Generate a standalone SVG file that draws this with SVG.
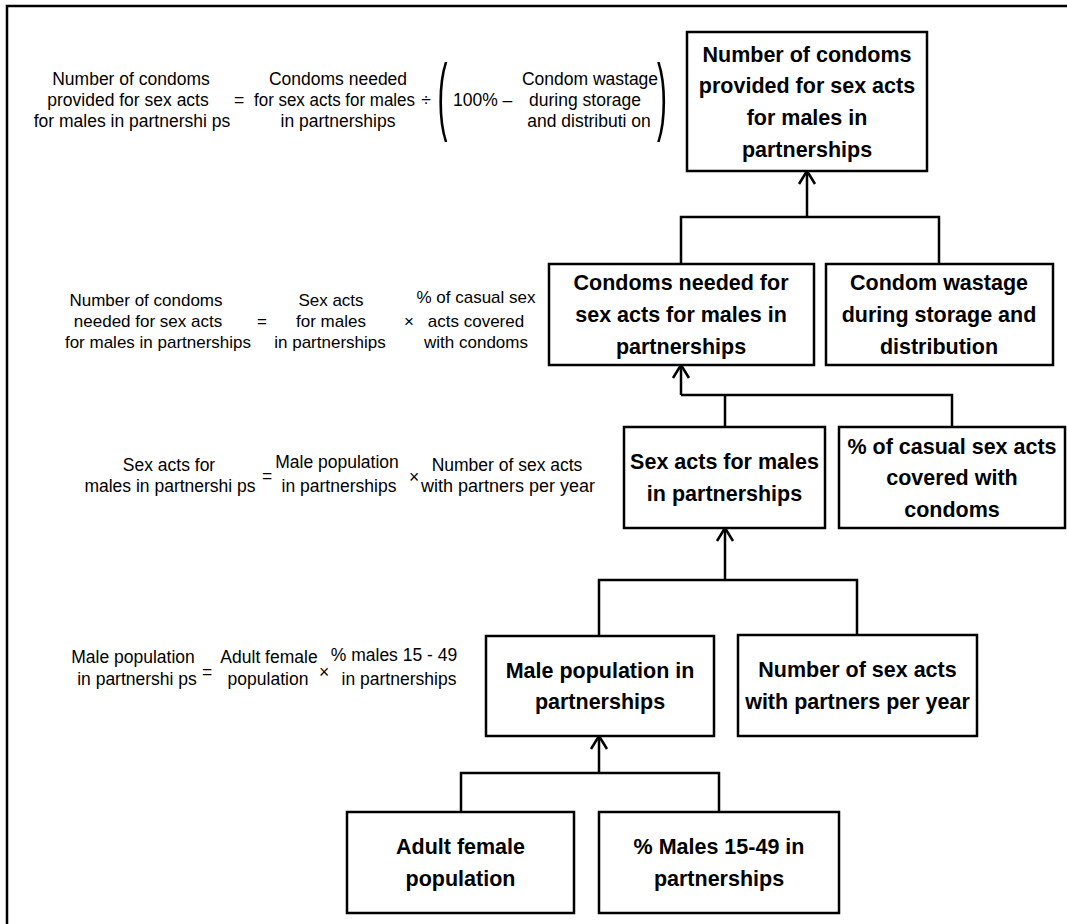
<svg xmlns="http://www.w3.org/2000/svg" width="1067" height="924" viewBox="0 0 1067 924">
<style>
.box{fill:#fff;stroke:#000;stroke-width:2.5}
.nt{font-family:"Liberation Sans",Arial,sans-serif;font-weight:bold;font-size:21.5px;text-anchor:middle;fill:#000}
.eq{font-family:"Liberation Sans",Arial,sans-serif;font-size:17.5px;fill:#000}
.eq2{font-size:17px}
.m{text-anchor:middle}
.conn{fill:none;stroke:#000;stroke-width:2.5}
.par{font-family:"Liberation Sans",Arial,sans-serif;font-size:30px;fill:#000}
</style>
<defs>
<marker id="arr" markerUnits="userSpaceOnUse" markerWidth="20" markerHeight="20" viewBox="-16 -10 20 20" refX="0" refY="0" orient="auto" overflow="visible">
<path d="M-13,-8 L0,0 L-13,8" fill="none" stroke="#000" stroke-width="2.5"/>
</marker>
</defs>
<rect x="0" y="0" width="1067" height="924" fill="#fff"/>
<rect id="frame" x="7" y="6" width="1080" height="940" fill="none" stroke="#000" stroke-width="2.5"/>

<g id="eq1" class="eq">
<text class="m" x="131" y="85">Number of condoms</text>
<text class="m" x="128" y="106">provided for sex acts</text>
<text class="m" x="132" y="127">for males in partnershi ps</text>
<text class="m" x="239" y="106">=</text>
<text class="m" x="338" y="85">Condoms needed</text>
<text class="m" x="334.5" y="106" textLength="161" lengthAdjust="spacingAndGlyphs">for sex acts for males</text>
<text class="m" x="338" y="127">in partnerships</text>
<text class="m" x="426" y="106">÷</text>
<text class="par" transform="translate(437.5,124) scale(1,2.85)">(</text>
<text x="453" y="106">100% –</text>
<text class="m" x="590" y="85">Condom wastage</text>
<text class="m" x="585" y="106">during storage</text>
<text class="m" x="589" y="127">and distributi on</text>
<text class="par" transform="translate(657,124) scale(1,2.85)">)</text>
</g>

<g id="eq2" class="eq eq2">
<text class="m" x="146" y="306">Number of condoms</text>
<text class="m" x="148" y="327">needed for sex acts</text>
<text class="m" x="158" y="348">for males in partnerships</text>
<text class="m" x="262" y="327">=</text>
<text class="m" x="331" y="306">Sex acts</text>
<text class="m" x="331" y="327">for males</text>
<text class="m" x="330" y="348">in partnerships</text>
<text class="m" x="409" y="327">×</text>
<text class="m" x="476" y="303">% of casual sex</text>
<text class="m" x="476" y="327">acts covered</text>
<text class="m" x="476" y="348">with condoms</text>
</g>

<g id="eq3" class="eq">
<text class="m" x="169" y="471">Sex acts for</text>
<text class="m" x="170" y="492">males in partnershi ps</text>
<text class="m" x="267" y="482">=</text>
<text class="m" x="337" y="468">Male population</text>
<text class="m" x="339" y="492">in partnerships</text>
<text class="m" x="414" y="483">×</text>
<text class="m" x="507" y="471">Number of sex acts</text>
<text class="m" x="508" y="492" textLength="174" lengthAdjust="spacingAndGlyphs">with partners per year</text>
</g>

<g id="eq4" class="eq">
<text class="m" x="133" y="663">Male population</text>
<text class="m" x="137" y="685">in partnershi ps</text>
<text class="m" x="207" y="678">=</text>
<text class="m" x="269" y="663">Adult female</text>
<text class="m" x="268" y="685">population</text>
<text class="m" x="324" y="678">×</text>
<text class="m" x="394" y="661">% males 15 - 49</text>
<text class="m" x="399" y="685">in partnerships</text>
</g>

<g id="connectors" class="conn">
<path d="M681,264 V217 H939 V264"/>
<path d="M807,217 V171" marker-end="url(#arr)"/>
<path d="M725,427 V395 M681,395 H952 V427"/>
<path d="M681,395 V365" marker-end="url(#arr)"/>
<path d="M599,636 V580 H857 V635"/>
<path d="M725,580 V528" marker-end="url(#arr)"/>
<path d="M461,812 V773 H719 V812"/>
<path d="M599,773 V736" marker-end="url(#arr)"/>
</g>

<g id="n1">
<rect class="box" x="687" y="32" width="240" height="139"/>
<text class="nt" x="807" y="62">Number of condoms</text>
<text class="nt" x="807" y="93">provided for sex acts</text>
<text class="nt" x="807" y="125">for males in</text>
<text class="nt" x="807" y="157">partnerships</text>
</g>
<g id="n2">
<rect class="box" x="549" y="264" width="265" height="101"/>
<text class="nt" x="681" y="290">Condoms needed for</text>
<text class="nt" x="681" y="322">sex acts for males in</text>
<text class="nt" x="681" y="354">partnerships</text>
</g>
<g id="n3">
<rect class="box" x="826" y="264" width="227" height="101"/>
<text class="nt" x="939" y="290">Condom wastage</text>
<text class="nt" x="939" y="322">during storage and</text>
<text class="nt" x="939" y="354">distribution</text>
</g>
<g id="n4">
<rect class="box" x="624" y="427" width="201" height="101"/>
<text class="nt" x="724.5" y="469">Sex acts for males</text>
<text class="nt" x="724.5" y="501">in partnerships</text>
</g>
<g id="n5">
<rect class="box" x="839" y="427" width="226" height="101"/>
<text class="nt" x="952" y="454">% of casual sex acts</text>
<text class="nt" x="952" y="485">covered with</text>
<text class="nt" x="952" y="517">condoms</text>
</g>
<g id="n6">
<rect class="box" x="486" y="636" width="228" height="100"/>
<text class="nt" x="600" y="678">Male population in</text>
<text class="nt" x="600" y="709">partnerships</text>
</g>
<g id="n7">
<rect class="box" x="738" y="635" width="239" height="101"/>
<text class="nt" x="857.5" y="677">Number of sex acts</text>
<text class="nt" x="857.5" y="709">with partners per year</text>
</g>
<g id="n8">
<rect class="box" x="347" y="812" width="227" height="101"/>
<text class="nt" x="460.5" y="854">Adult female</text>
<text class="nt" x="460.5" y="886">population</text>
</g>
<g id="n9">
<rect class="box" x="599" y="812" width="240" height="101"/>
<text class="nt" x="719" y="854">% Males 15-49 in</text>
<text class="nt" x="719" y="886">partnerships</text>
</g>
</svg>
